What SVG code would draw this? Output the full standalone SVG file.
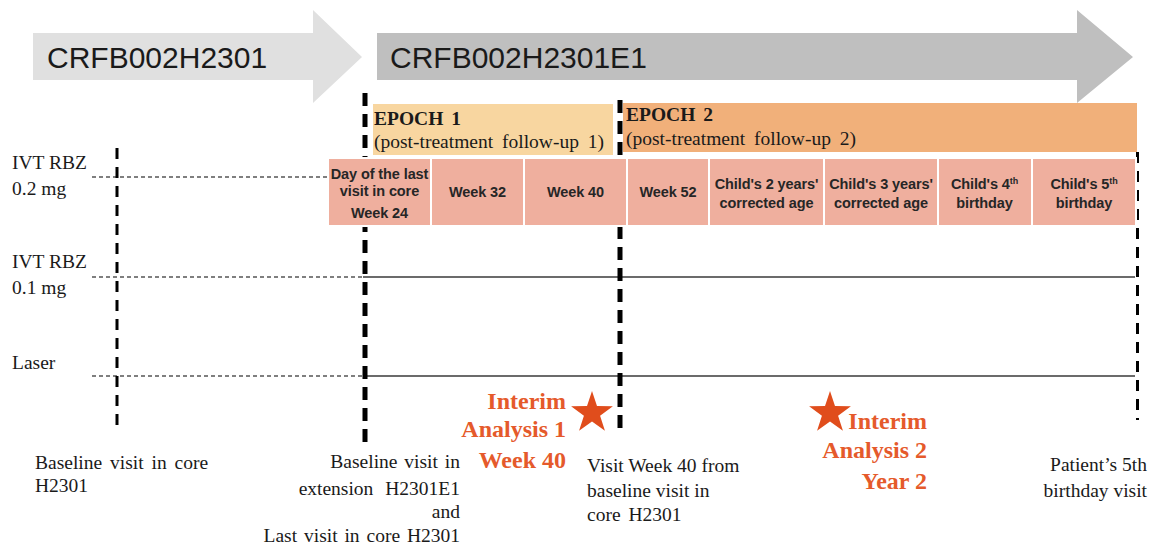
<svg xmlns="http://www.w3.org/2000/svg" width="1153" height="547" viewBox="0 0 1153 547">
<style>
.arrowtxt{font-family:"Liberation Sans",Arial,sans-serif;font-size:30px;fill:#1a1a1a}
.epoch{font-family:"Liberation Serif","Times New Roman",serif;font-size:19.5px;fill:#1a1a1a;word-spacing:4px}
.epochb{font-family:"Liberation Serif","Times New Roman",serif;font-size:19.5px;font-weight:bold;fill:#1a1a1a;word-spacing:3px}
.cell{fill:#efaf9e;stroke:#fff;stroke-width:2}
.ct{font-family:"Liberation Sans",Arial,sans-serif;font-size:14.5px;font-weight:bold;fill:#262626;text-anchor:middle;letter-spacing:-0.1px}
.lbl{font-family:"Liberation Serif","Times New Roman",serif;font-size:19.5px;fill:#1a1a1a}
.note{font-family:"Liberation Serif","Times New Roman",serif;font-size:19.5px;fill:#1a1a1a}
.ia{font-family:"Liberation Serif","Times New Roman",serif;font-size:24px;font-weight:bold;fill:#e55a2b;text-anchor:end}
.star{fill:#e04d1c}
.hdash{stroke:#555;stroke-width:1.3;stroke-dasharray:4 3;fill:none}
.solid{stroke:#3a3a3a;stroke-width:1.4;fill:none}
.vthick{stroke:#000;stroke-width:5;stroke-dasharray:13 8;fill:none}
.vthin{stroke:#000;stroke-width:3;stroke-dasharray:11 8;fill:none}
</style>
<defs>
<path id="starShape" d="M0,-22 L4.996,-6.877 L20.92,-6.8 L8.084,2.627 L12.93,17.8 L0,8.5 L-12.93,17.8 L-8.084,2.627 L-20.92,-6.8 L-4.996,-6.877 Z"/>
</defs>

<g id="study-core">
<polygon points="33,33 313,33 313,10 362,57 313,103 313,80 33,80" fill="#e0e0e0"/>
<text class="arrowtxt" x="47" y="68">CRFB002H2301</text>
</g>
<g id="study-extension">
<polygon points="377,33 1077,33 1077,10 1133,57 1077,103 1077,80 377,80" fill="#bfbfbf"/>
<text class="arrowtxt" x="390" y="68">CRFB002H2301E1</text>
</g>

<g id="epoch1">
<rect x="373" y="104" width="240" height="51" fill="#f8d6a0"/>
<text class="epochb" x="374" y="125">EPOCH 1</text>
<text class="epoch" x="374" y="148">(post-treatment follow-up 1)</text>
</g>
<g id="epoch2">
<rect x="623" y="103" width="514" height="49" fill="#f1b07a"/>
<text class="epochb" x="626" y="121">EPOCH 2</text>
<text class="epoch" x="626" y="145">(post-treatment follow-up 2)</text>
</g>

<g id="connectors">
<line class="hdash" x1="92" y1="177" x2="328" y2="177"/>
<line class="hdash" x1="92" y1="277" x2="363" y2="277"/>
<line class="hdash" x1="92" y1="376" x2="363" y2="376"/>
<line class="solid" x1="363" y1="277" x2="1135" y2="277"/>
<line class="solid" x1="363" y1="376" x2="1135" y2="376"/>
<line class="vthin" x1="117" y1="148" x2="117" y2="429"/>
<line class="vthick" x1="365" y1="93" x2="365" y2="449"/>
<line class="vthick" x1="620" y1="100" x2="620" y2="436"/>
<line class="vthin" x1="1137.5" y1="152" x2="1137.5" y2="420"/>
</g>

<g id="visits">
<rect class="cell" x="328" y="158" width="103" height="68"/>
<rect class="cell" x="431" y="158" width="93" height="68"/>
<rect class="cell" x="524" y="158" width="103" height="68"/>
<rect class="cell" x="627" y="158" width="82" height="68"/>
<rect class="cell" x="709" y="158" width="115" height="68"/>
<rect class="cell" x="824" y="158" width="114" height="68"/>
<rect class="cell" x="938" y="158" width="94" height="68"/>
<rect class="cell" x="1032" y="158" width="104" height="68"/>
<text class="ct" x="379.5" y="179">Day of the last</text>
<text class="ct" x="379.5" y="196">visit in core</text>
<text class="ct" x="379.5" y="218">Week 24</text>
<text class="ct" x="477.5" y="197">Week 32</text>
<text class="ct" x="575.5" y="197">Week 40</text>
<text class="ct" x="668" y="197">Week 52</text>
<text class="ct" x="766.5" y="189">Child's 2 years'</text>
<text class="ct" x="766.5" y="208">corrected age</text>
<text class="ct" x="881" y="189">Child's 3 years'</text>
<text class="ct" x="881" y="208">corrected age</text>
<text class="ct" x="984.5" y="189">Child's 4<tspan font-size="9" dy="-5">th</tspan></text>
<text class="ct" x="984.5" y="208">birthday</text>
<text class="ct" x="1084" y="189">Child's 5<tspan font-size="9" dy="-5">th</tspan></text>
<text class="ct" x="1084" y="208">birthday</text>
</g>

<g id="row-labels">
<text class="lbl" x="12" y="169">IVT RBZ</text>
<text class="lbl" x="12" y="195">0.2 mg</text>
<text class="lbl" x="12" y="268">IVT RBZ</text>
<text class="lbl" x="12" y="294">0.1 mg</text>
<text class="lbl" x="12" y="369">Laser</text>
</g>

<g id="interim1">
<use href="#starShape" class="star" x="592" y="413"/>
<text class="ia" x="566" y="409">Interim</text>
<text class="ia" x="566" y="437">Analysis 1</text>
<text class="ia" x="566" y="468">Week 40</text>
</g>
<g id="interim2">
<use href="#starShape" class="star" x="830" y="413"/>
<text class="ia" x="927" y="429">Interim</text>
<text class="ia" x="927" y="458">Analysis 2</text>
<text class="ia" x="927" y="489">Year 2</text>
</g>

<g id="note-baseline-core">
<text class="note" x="35" y="469" style="word-spacing:3px">Baseline visit in core</text>
<text class="note" x="35" y="492">H2301</text>
</g>
<g id="note-baseline-ext">
<text class="note" x="460" y="468" text-anchor="end" style="word-spacing:2px">Baseline visit in</text>
<text class="note" x="460" y="495" text-anchor="end" style="word-spacing:7px">extension H2301E1</text>
<text class="note" x="460" y="518" text-anchor="end">and</text>
<text class="note" x="460" y="542" text-anchor="end" style="word-spacing:2px">Last visit in core H2301</text>
</g>
<g id="note-week40">
<text class="note" x="587" y="472">Visit Week 40 from</text>
<text class="note" x="587" y="497">baseline visit in</text>
<text class="note" x="587" y="521" style="word-spacing:3px">core H2301</text>
</g>
<g id="note-birthday">
<text class="note" x="1147" y="471" text-anchor="end">Patient’s 5th</text>
<text class="note" x="1147" y="497" text-anchor="end">birthday visit</text>
</g>
</svg>
